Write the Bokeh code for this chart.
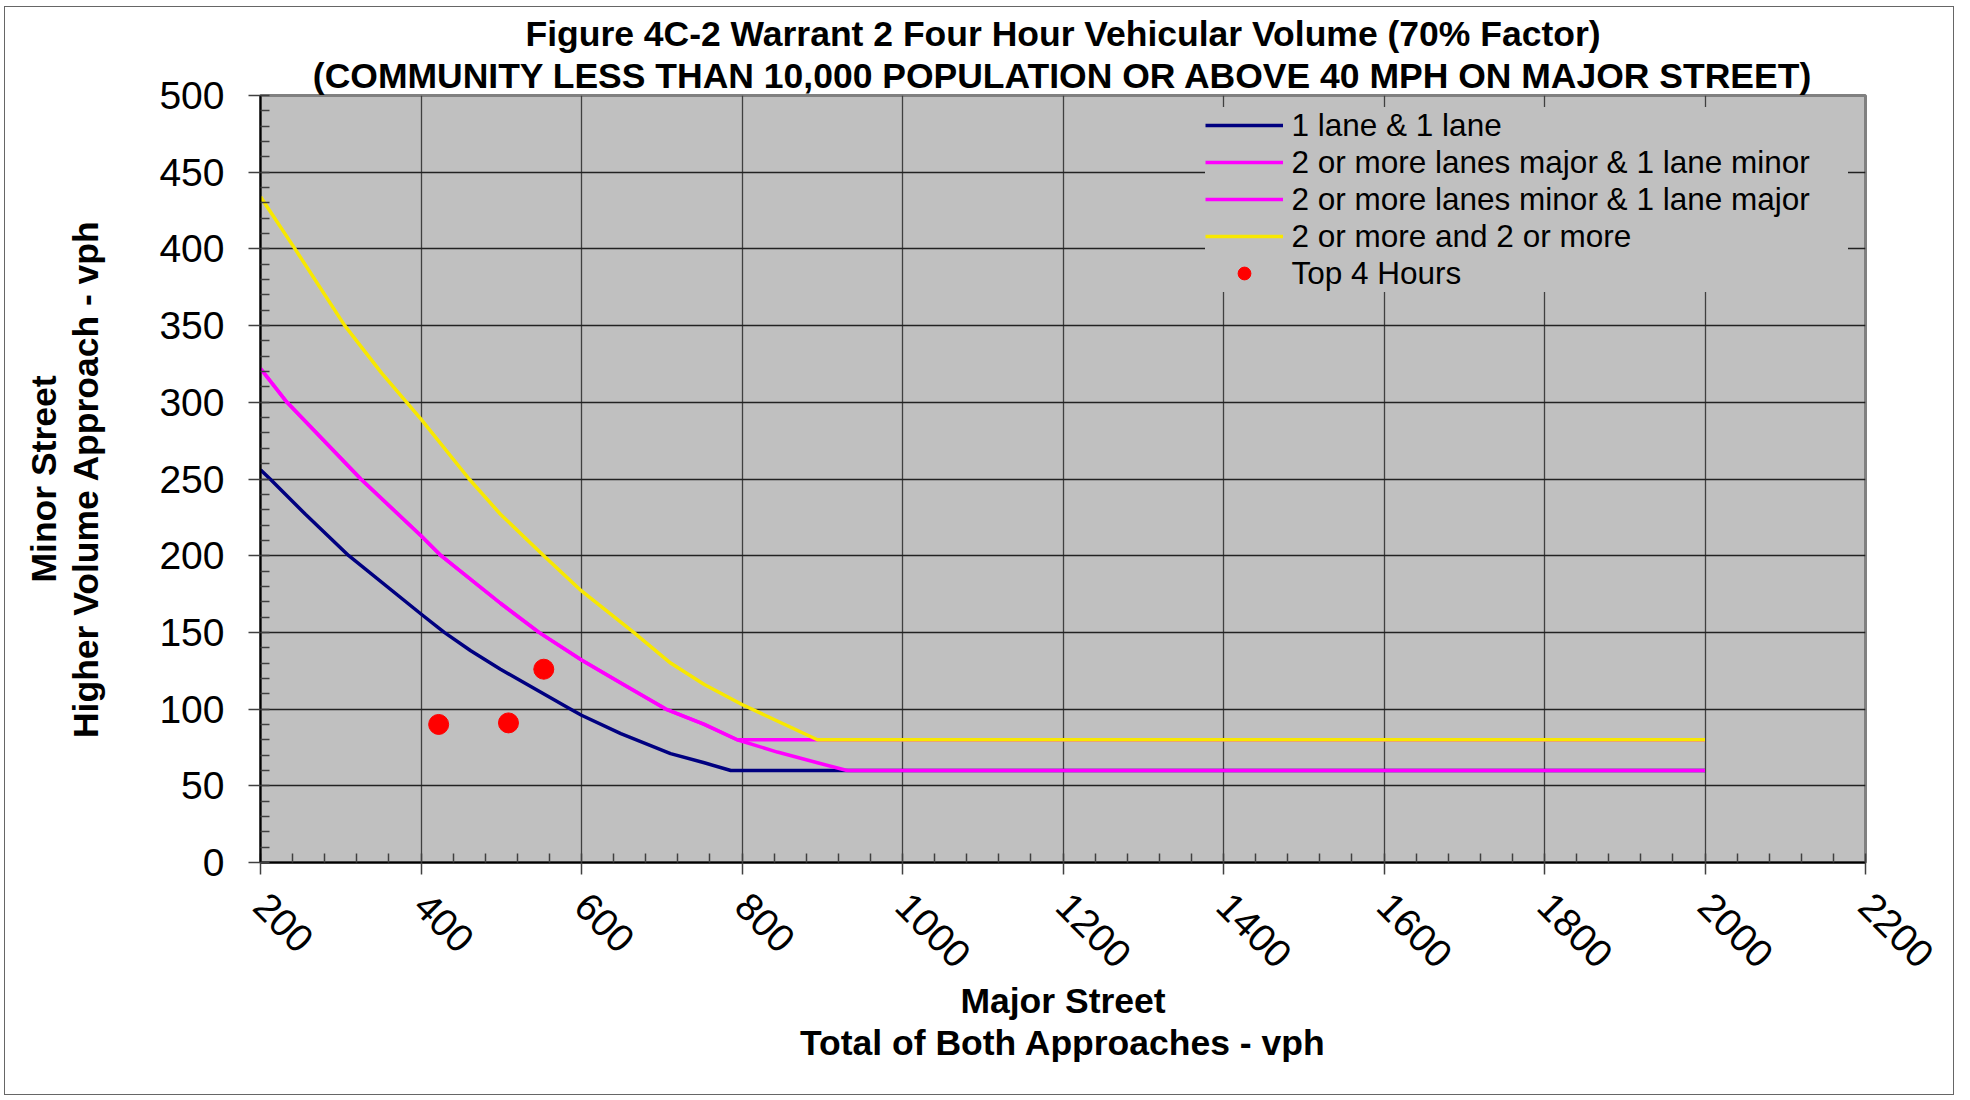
import numpy as np
from bokeh.plotting import figure
from bokeh.models import Range1d, FixedTicker, Title, Legend, LegendItem
from bokeh.embed import file_html
from bokeh.resources import INLINE

FONT = "Liberation Sans"

# warrant curves (major street vph -> minor street vph)
one_one_x = [200, 212, 256, 310, 400, 429, 462, 499, 586, 600, 649, 711, 753, 786, 2000]
one_one_y = [256, 250, 227, 200, 162, 150, 138, 126, 100, 96, 84, 71, 65, 60, 60]

major2_x = [200, 233, 325, 400, 425, 499, 547, 600, 649, 705, 753, 794, 844, 894, 931, 2000]
major2_y = [322, 300, 250, 213, 200, 169, 150, 132, 117, 100, 90, 80, 72, 65, 60, 60]

minor2_x = [200, 233, 325, 400, 425, 499, 547, 600, 649, 705, 753, 794, 2000]
minor2_y = [322, 300, 250, 213, 200, 169, 150, 132, 117, 100, 90, 80, 80]

two_two_x = [200, 243, 305, 351, 400, 460, 499, 553, 600, 665, 711, 753, 800, 894, 2000]
two_two_y = [434, 400, 350, 319, 289, 250, 227, 200, 177, 150, 130, 116, 103, 80, 80]

# observed top hours
hours_x = [422, 509, 553]
hours_y = [90, 91, 126]

x_ticks = list(range(200, 2201, 200))
y_ticks = list(range(0, 501, 50))
x_minor = list(range(200, 2201, 40))
y_minor = list(range(0, 501, 10))

title_1 = "Figure 4C-2 Warrant 2 Four Hour Vehicular Volume (70% Factor)"
title_2 = "(COMMUNITY LESS THAN 10,000 POPULATION OR ABOVE 40 MPH ON MAJOR STREET)"

p = figure(width=1950, height=1089, x_range=Range1d(200, 2200), y_range=Range1d(0, 500),
           output_backend="svg", toolbar_location=None, title=None,
           min_border_left=255, min_border_right=90, min_border_top=88, min_border_bottom=234,
           background_fill_color="#C0C0C0", border_fill_color="white",
           outline_line_color="#808080", outline_line_width=3,
           styles={"border": "1.5px solid #666666", "margin-left": "3.5px", "margin-top": "5.5px"})

for t in (title_2, title_1):
    p.add_layout(Title(text=t, align="center", text_font=FONT, text_font_size="35.5px",
                       text_font_style="bold", text_color="black", standoff=0, offset=0), "above")

xt = FixedTicker(ticks=x_ticks, minor_ticks=x_minor)
yt = FixedTicker(ticks=y_ticks, minor_ticks=y_minor)
p.xaxis.ticker = xt
p.yaxis.ticker = yt
p.xgrid.ticker = xt
p.ygrid.ticker = yt

for ax in (p.xaxis[0], p.yaxis[0]):
    ax.axis_line_color = "black"
    ax.axis_line_width = 2
    ax.major_tick_in = 0
    ax.major_tick_out = 12
    ax.minor_tick_in = 9
    ax.minor_tick_out = 0
    ax.major_tick_line_color = "#404040"
    ax.major_tick_line_width = 1.5
    ax.minor_tick_line_color = "#404040"
    ax.minor_tick_line_width = 1.5
    ax.major_label_text_font = FONT
    ax.major_label_text_font_size = "39px"
    ax.major_label_text_color = "black"
    ax.axis_label_text_font = FONT
    ax.axis_label_text_font_size = "35.5px"
    ax.axis_label_text_font_style = "bold"
    ax.axis_label_text_color = "black"
    ax.axis_label_text_line_height = 1.05

p.xaxis.axis_label = "Major Street\nTotal of Both Approaches - vph"
p.yaxis.axis_label = "Minor Street\nHigher Volume Approach - vph"
p.xaxis.major_label_orientation = -np.pi / 4
p.xaxis.major_label_standoff = 25
p.yaxis.major_label_standoff = 24
p.xaxis.axis_label_standoff = -2
p.yaxis.axis_label_standoff = 50

p.xgrid.grid_line_color = "#404040"
p.xgrid.grid_line_width = 1.3
p.ygrid.grid_line_color = "#222222"
p.ygrid.grid_line_width = 1.3

r1 = p.line(one_one_x, one_one_y, line_color="#000080", line_width=3.5, line_join="round")
r2 = p.line(major2_x, major2_y, line_color="#FF00FF", line_width=3.5, line_join="round")
r3 = p.line(minor2_x, minor2_y, line_color="#FF00FF", line_width=3.5, line_join="round")
r4 = p.line(two_two_x, two_two_y, line_color="#F8E800", line_width=3.5, line_join="round")
r5 = p.scatter(hours_x, hours_y, size=20, fill_color="#FF0000", line_color="#FF0000")

legend = Legend(items=[
    LegendItem(label="1 lane & 1 lane", renderers=[r1]),
    LegendItem(label="2 or more lanes major & 1 lane minor", renderers=[r2]),
    LegendItem(label="2 or more lanes minor & 1 lane major", renderers=[r3]),
    LegendItem(label="2 or more and 2 or more", renderers=[r4]),
    LegendItem(label="Top 4 Hours", renderers=[r5]),
], location=(945, 570))
legend.background_fill_color = "#C0C0C0"
legend.background_fill_alpha = 1
legend.border_line_color = None
legend.label_text_font = FONT
legend.label_text_font_size = "31.5px"
legend.label_text_color = "black"
legend.glyph_width = 78
legend.glyph_height = 32
legend.label_height = 32
legend.label_standoff = 9
legend.label_width = 556
legend.spacing = 0
legend.padding = 8
legend.margin = 0
p.add_layout(legend)

open("out.html", "w").write(file_html(p, INLINE))
